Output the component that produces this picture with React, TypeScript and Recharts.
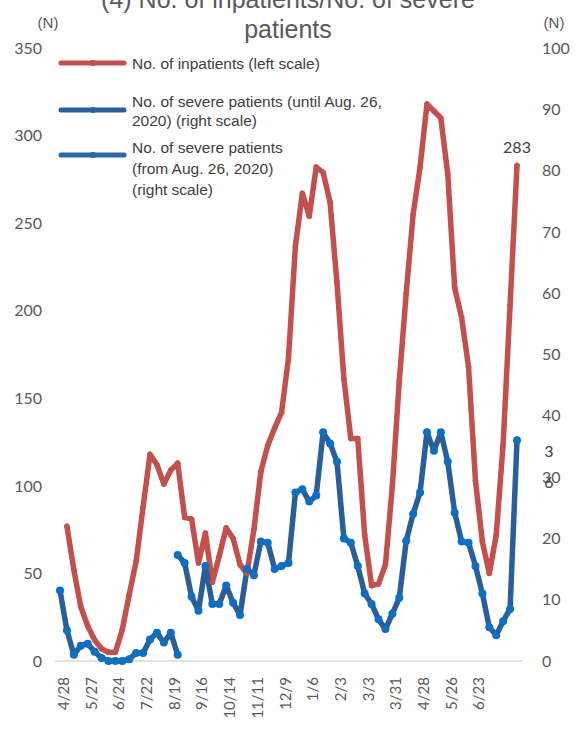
import { LineChart, Line, XAxis, YAxis } from 'recharts'

// weekly dates, 2020/4/28 .. 2021/8/4
const dates = [
  '2020/4/28', '2020/5/6', '2020/5/13', '2020/5/20', '2020/5/27', '2020/6/3', '2020/6/10', '2020/6/17',
  '2020/6/24', '2020/7/1', '2020/7/8', '2020/7/15', '2020/7/22', '2020/7/29', '2020/8/5', '2020/8/12',
  '2020/8/19', '2020/8/26', '2020/9/2', '2020/9/9', '2020/9/16', '2020/9/23', '2020/9/30', '2020/10/7',
  '2020/10/14', '2020/10/21', '2020/10/28', '2020/11/4', '2020/11/11', '2020/11/18', '2020/11/25', '2020/12/2',
  '2020/12/9', '2020/12/16', '2020/12/23', '2020/12/30', '2021/1/6', '2021/1/13', '2021/1/20', '2021/1/27',
  '2021/2/3', '2021/2/10', '2021/2/17', '2021/2/24', '2021/3/3', '2021/3/10', '2021/3/17', '2021/3/24',
  '2021/3/31', '2021/4/7', '2021/4/14', '2021/4/21', '2021/4/28', '2021/5/5', '2021/5/12', '2021/5/19',
  '2021/5/26', '2021/6/2', '2021/6/9', '2021/6/16', '2021/6/23', '2021/6/30', '2021/7/7', '2021/7/14',
  '2021/7/21', '2021/7/28', '2021/8/4',
]

const tickDates = [
  '2020/4/28', '2020/5/27', '2020/6/24', '2020/7/22', '2020/8/19', '2020/9/16', '2020/10/14', '2020/11/11',
  '2020/12/9', '2021/1/6', '2021/2/3', '2021/3/3', '2021/3/31', '2021/4/28', '2021/5/26', '2021/6/23',
]

// left scale
const inpatients = [
  null, 77, 52, 31, 20, 12, 7, 5, 5, 18, 38,
  57, 88, 118, 112, 101, 109, 113, 82, 81, 56,
  73, 45, 60, 76, 70, 55, 50, 75, 108, 123,
  133, 142, 173, 237, 267, 254, 282, 279, 262, 216,
  161, 127, 127, 72, 43, 44, 55, 100, 160, 210,
  255, 282, 318, 314, 310, 278, 213, 196, 168, 103,
  68, 50, 72, 124, 203, 283,
]

// right scale
const severeUntil = [11.5, 5, 1, 2.5, 2.8, 1.5, 0.5, 0, 0, 0, 0.3, 1.3, 1.3, 3.5, 4.6, 3, 4.6, 1]

const severeFrom = [
  null, null, null, null, null, null, null, null, null, null, null, null, null, null, null, null, null,
  17.3, 16, 10.5, 8.2, 15.5, 9.3, 9.3, 12.3, 9.5, 7.5,
  15, 14, 19.5, 19.3, 15, 15.5, 16, 27.5, 28, 26,
  27, 37.3, 35.5, 32.5, 20, 19.3, 15.5, 11, 9.3, 6.8,
  5.2, 7.7, 10.3, 19.6, 24, 27.5, 37.3, 34.3, 37.3, 32.5,
  24.2, 19.5, 19.3, 15.5, 11, 5.5, 4.2, 6.5, 8.5, 36,
]

const leftTicks = [0, 50, 100, 150, 200, 250, 300, 350]
const rightTicks = [0, 10, 20, 30, 40, 50, 60, 70, 80, 90, 100]

const RED = '#C4504D'
const BLUE_LINE = '#2A5E98'
const BLUE_DOT = '#0D6FC4'
const GRAY = '#595959'
const DARK = '#404040'
const NUM_FONT = 'Lato, "Open Sans", sans-serif'
const TEXT_FONT = '"Liberation Sans", Arial, sans-serif'

const rows = dates.map((date, i) => ({
  date,
  inpatients: inpatients[i],
  severeUntil: severeUntil[i] ?? null,
  severeFrom: severeFrom[i],
}))

const DateTick = (props: any) => {
  const { x, payload } = props
  if (!tickDates.includes(payload.value)) return <g />
  const label = payload.value.split('/').slice(1).join('/')
  return (
    <text
      transform={`translate(${x + 9},677) rotate(-90)`}
      textAnchor="end"
      fontFamily={NUM_FONT}
      fontSize={15}
      fill={GRAY}
    >
      {label}
    </text>
  )
}

const lastIdx = dates.length - 1

const inpatientLabel = (props: any) => {
  const { x, y, index, value } = props
  if (index !== lastIdx) return null
  return (
    <text x={x} y={y - 12} textAnchor="middle" fontFamily={NUM_FONT} fontSize={16} fill={DARK}>
      {value}
    </text>
  )
}

// the "36" label wraps onto two lines in the original
const severeLabel = (props: any) => {
  const { x, y, index, value } = props
  if (index !== lastIdx) return null
  const s = String(value)
  return (
    <text x={x + 32} y={y + 17} textAnchor="middle" fontFamily={NUM_FONT} fontSize={16} fill={DARK}>
      <tspan x={x + 32} y={y + 17}>{s[0]}</tspan>
      <tspan x={x + 32} y={y + 48}>{s.slice(1)}</tspan>
    </text>
  )
}

const LegendLine = ({ y, color }: { y: number; color: string }) => (
  <g>
    <line x1={61} y1={y} x2={124} y2={y} stroke={color} strokeWidth={5} strokeLinecap="round" />
    <circle cx={93} cy={y} r={3} fill={color} />
  </g>
)

export default function App() {
  return (
    <div style={{ position: 'absolute', left: 0, top: 0, width: 583, height: 736, background: '#fff' }}>
      <LineChart width={583} height={736} data={rows} margin={{ top: 48, right: 0, bottom: 15, left: 0 }}>
        <XAxis
          dataKey="date"
          interval={0}
          tick={<DateTick />}
          tickLine={false}
          axisLine={{ stroke: '#D9D9D9', strokeWidth: 1.5 }}
          height={60}
          padding={{ left: 5, right: 5 }}
        />
        <YAxis
          yAxisId="left"
          domain={[0, 350]}
          ticks={leftTicks}
          width={55}
          tickLine={false}
          axisLine={false}
          tickMargin={7}
          tick={{ fontFamily: NUM_FONT, fontSize: 16, fill: GRAY }}
        />
        <YAxis
          yAxisId="right"
          orientation="right"
          domain={[0, 100]}
          ticks={rightTicks}
          width={61}
          tickLine={false}
          axisLine={false}
          tickMargin={14}
          tick={{ fontFamily: NUM_FONT, fontSize: 16, fill: GRAY, textAnchor: 'start' }}
        />
        <Line
          yAxisId="left"
          dataKey="inpatients"
          type="linear"
          stroke={RED}
          strokeWidth={5.5}
          strokeLinejoin="round"
          dot={{ r: 2.4, fill: RED, stroke: RED, strokeWidth: 1 }}
          label={inpatientLabel}
          isAnimationActive={false}
        />
        <Line
          yAxisId="right"
          dataKey="severeUntil"
          type="linear"
          stroke={BLUE_LINE}
          strokeWidth={5.5}
          strokeLinejoin="round"
          dot={{ r: 4, fill: BLUE_DOT, strokeWidth: 0 }}
          isAnimationActive={false}
        />
        <Line
          yAxisId="right"
          dataKey="severeFrom"
          type="linear"
          stroke={BLUE_LINE}
          strokeWidth={5.5}
          strokeLinejoin="round"
          dot={{ r: 4, fill: BLUE_DOT, strokeWidth: 0 }}
          label={severeLabel}
          isAnimationActive={false}
        />
      </LineChart>

      <svg width={583} height={736} style={{ position: 'absolute', left: 0, top: 0, pointerEvents: 'none' }}>
        <text x={288} y={8} textAnchor="middle" fontFamily={TEXT_FONT} fontSize={25} fill={GRAY}>
          (4) No. of inpatients/No. of severe
        </text>
        <text x={288} y={38} textAnchor="middle" fontFamily={TEXT_FONT} fontSize={25} fill={GRAY}>
          patients
        </text>
        <text x={48} y={28} textAnchor="middle" fontFamily={TEXT_FONT} fontSize={15} fill={GRAY}>(N)</text>
        <text x={554} y={28} textAnchor="middle" fontFamily={TEXT_FONT} fontSize={15} fill={GRAY}>(N)</text>

        <LegendLine y={63} color={RED} />
        <text x={132} y={68.5} fontFamily={TEXT_FONT} fontSize={15.5} fill={DARK}>No. of inpatients (left scale)</text>

        <LegendLine y={110} color={BLUE_LINE} />
        <text fontFamily={TEXT_FONT} fontSize={15.5} fill={DARK}>
          <tspan x={132} y={106.5}>No. of severe patients (until Aug. 26,</tspan>
          <tspan x={132} y={126}>2020) (right scale)</tspan>
        </text>

        <LegendLine y={155} color="#2B66A8" />
        <text fontFamily={TEXT_FONT} fontSize={15.5} fill={DARK}>
          <tspan x={132} y={152.5}>No. of severe patients</tspan>
          <tspan x={132} y={173.5}>(from Aug. 26, 2020)</tspan>
          <tspan x={132} y={194.5}>(right scale)</tspan>
        </text>
      </svg>
    </div>
  )
}
